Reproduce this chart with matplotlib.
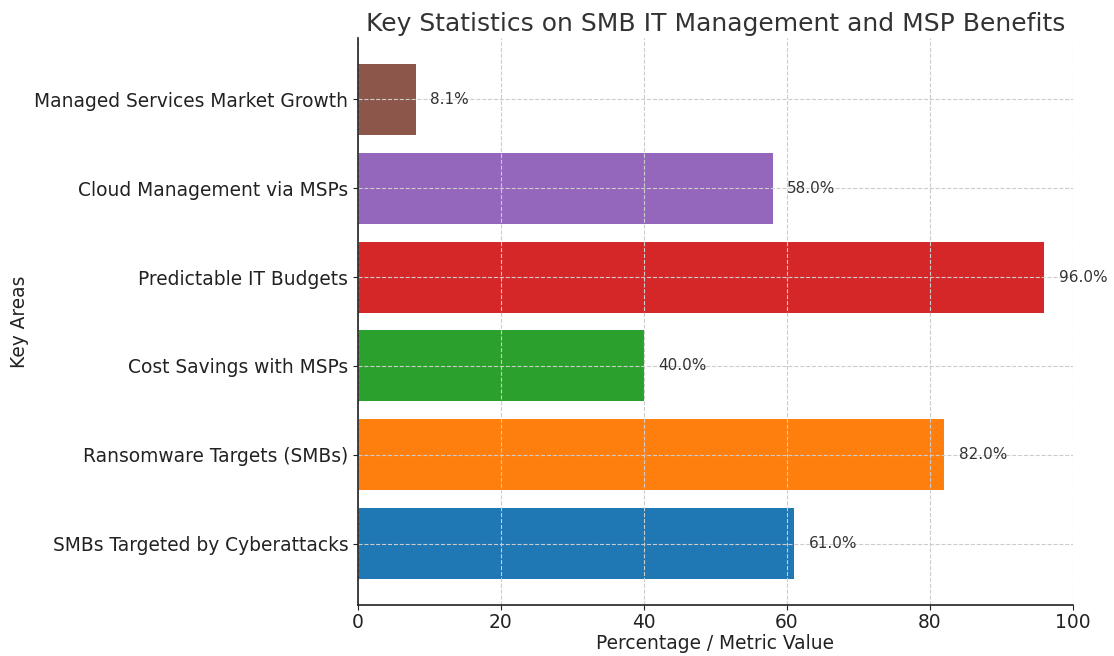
import matplotlib
matplotlib.use("Agg")
import matplotlib.pyplot as plt

categories = [
    "SMBs Targeted by Cyberattacks",
    "Ransomware Targets (SMBs)",
    "Cost Savings with MSPs",
    "Predictable IT Budgets",
    "Cloud Management via MSPs",
    "Managed Services Market Growth",
]
values = [61.0, 82.0, 40.0, 96.0, 58.0, 8.1]
colors = ["#1f77b4", "#ff7f0e", "#2ca02c", "#d62728", "#9467bd", "#8c564b"]

fig = plt.figure(figsize=(11.14, 6.56), dpi=100)
ax = fig.add_axes([358/1114, 1-605/656, (1073-358)/1114, (605-38)/656])

bars = ax.barh(categories, values, color=colors)
for b, v in zip(bars, values):
    ax.text(v + 2, b.get_y() + b.get_height()/2, f"{v:.1f}%", va="center", ha="left",
            fontsize=11, color="#333333")

ax.set_xlim(0, 100)
ax.set_title("Key Statistics on SMB IT Management and MSP Benefits", fontsize=18, color="#333333", pad=5)
ax.set_xlabel("Percentage / Metric Value", fontsize=13.4, color="#222222", labelpad=1)
ax.set_ylabel("Key Areas", fontsize=13.4, color="#222222")
ax.tick_params(labelsize=13.4, colors="#222222")
ax.tick_params(axis="x", pad=2.5)
ax.grid(True, linestyle="--", color="#cccccc", linewidth=0.8)
ax.spines["top"].set_visible(False)
ax.spines["right"].set_visible(False)
ax.spines["left"].set_color("#222222")
ax.spines["bottom"].set_color("#222222")
ax.spines["left"].set_linewidth(1.2)
ax.spines["bottom"].set_linewidth(1.2)

fig.savefig("out.png", dpi=100)
